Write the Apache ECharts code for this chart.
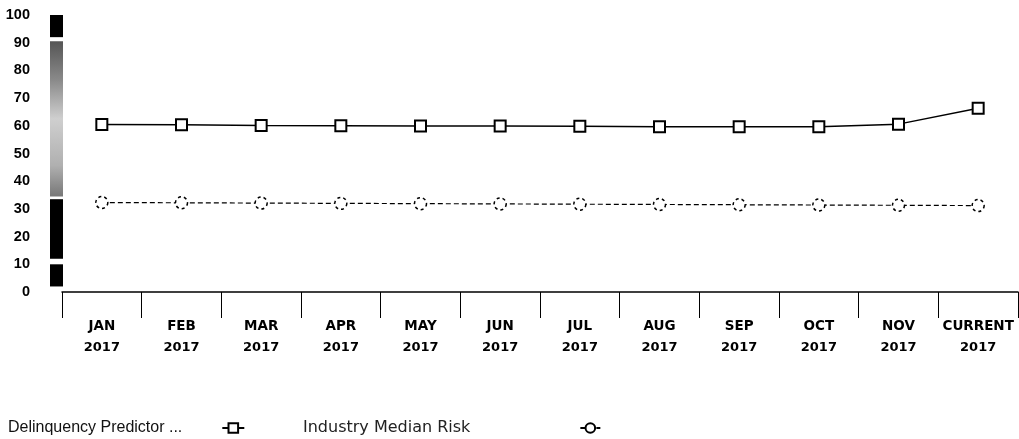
<!DOCTYPE html>
<html>
<head>
<meta charset="utf-8">
<script src="https://cdn.jsdelivr.net/npm/echarts@6/dist/echarts.min.js"></script>
<style>
html,body{margin:0;padding:0;background:#fff;}
#c{width:1019px;height:439px;}
</style>
</head>
<body>
<div id="c"></div>
<script>
const months = ['JAN','FEB','MAR','APR','MAY','JUN','JUL','AUG','SEP','OCT','NOV','CURRENT'];
const years = ['2017','2017','2017','2017','2017','2017','2017','2017','2017','2017','2017','2017'];
const predictorName = 'Delinquency Predictor ...';
const medianName = 'Industry Median Risk';
const predictorValues = [60.5, 60.4, 60.1, 60.0, 59.9, 59.9, 59.8, 59.7, 59.7, 59.7, 60.6, 66.3];
const medianValues = [32.3, 32.2, 32.1, 32.0, 31.9, 31.8, 31.7, 31.6, 31.5, 31.4, 31.3, 31.2];
const yTicks = [0, 10, 20, 30, 40, 50, 60, 70, 80, 90, 100];
const bandLow = [2, 12, 34.5, 92];
const bandHigh = [10, 33.5, 90.5, 100];
const bandKind = ['dark', 'dark', 'gray', 'dark'];

const grayFill = {
  type: 'linear', x: 0, y: 0, x2: 0, y2: 1,
  colorStops: [
    {offset: 0, color: '#555'},
    {offset: 0.25, color: '#8a8a8a'},
    {offset: 0.5, color: '#cfcfcf'},
    {offset: 0.8, color: '#b0b0b0'},
    {offset: 1, color: '#777'}
  ]
};

const bandSeries = [];
let prev = 0;
bandLow.forEach((lo, i) => {
  bandSeries.push({
    type: 'bar', xAxisIndex: 1, yAxisIndex: 1, stack: 'band', barWidth: 13,
    silent: true, data: [lo - prev], itemStyle: {color: 'rgba(0,0,0,0)'}
  });
  bandSeries.push({
    type: 'bar', xAxisIndex: 1, yAxisIndex: 1, stack: 'band', barWidth: 13,
    silent: true, data: [bandHigh[i] - lo],
    itemStyle: {color: bandKind[i] === 'dark' ? '#000' : grayFill}
  });
  prev = bandHigh[i];
});

const chart = echarts.init(document.getElementById('c'));
chart.setOption({
  backgroundColor: '#fff',
  animation: false,
  grid: [
    {left: 62, right: 1, top: 15, bottom: 147},
    {left: 50, width: 13, top: 15, bottom: 147}
  ],
  xAxis: [
    {
      type: 'category', gridIndex: 0, data: months, boundaryGap: true,
      axisLine: {lineStyle: {color: '#000', width: 1.5}},
      axisTick: {show: true, interval: 0, length: 26, lineStyle: {color: '#000', width: 1}},
      axisLabel: {
        interval: 0, margin: 23, color: '#000',
        formatter: (v, i) => '{m|' + v + '}\n{y|' + years[i] + '}',
        rich: {
          m: {fontFamily: 'DejaVu Sans', fontWeight: 'bold', fontSize: 13.5, color: '#000', lineHeight: 22},
          y: {fontFamily: 'DejaVu Sans', fontWeight: 'bold', fontSize: 13, color: '#000', lineHeight: 22}
        }
      }
    },
    {type: 'category', gridIndex: 1, data: ['band'], show: false}
  ],
  yAxis: [
    {
      type: 'value', gridIndex: 0, min: yTicks[0], max: yTicks[yTicks.length - 1], interval: 10,
      axisLine: {show: false}, axisTick: {show: false}, splitLine: {show: false},
      axisLabel: {margin: 32, color: '#000', fontFamily: 'Liberation Sans', fontWeight: 'bold', fontSize: 14.5}
    },
    {type: 'value', gridIndex: 1, min: 0, max: 100, show: false}
  ],
  legend: [
    {
      data: [predictorName], left: 8, top: 420, padding: 0, align: 'right',
      itemWidth: 22, itemHeight: 12,
      textStyle: {fontFamily: 'Liberation Sans', fontSize: 16, color: '#111', padding: [0, 35, 0, 0]}
    },
    {
      data: [medianName], left: 303, top: 420, padding: 0, align: 'right',
      itemWidth: 20, itemHeight: 12,
      textStyle: {fontFamily: 'DejaVu Sans', fontSize: 16, color: '#222', padding: [0, 105, 0, 0]}
    }
  ],
  series: [
    {
      name: predictorName, type: 'line', xAxisIndex: 0, yAxisIndex: 0,
      data: predictorValues, symbol: 'rect', symbolSize: 11,
      lineStyle: {color: '#000', width: 1.5},
      itemStyle: {color: '#fff', borderColor: '#000', borderWidth: 2}
    },
    {
      name: medianName, type: 'line', xAxisIndex: 0, yAxisIndex: 0,
      data: medianValues, symbol: 'circle', symbolSize: 12,
      lineStyle: {color: '#000', width: 1.2, type: [5, 3]},
      itemStyle: {color: '#fff', borderColor: '#000', borderWidth: 1.5, borderType: [3, 3]}
    }
  ].concat(bandSeries)
});
</script>
</body>
</html>
